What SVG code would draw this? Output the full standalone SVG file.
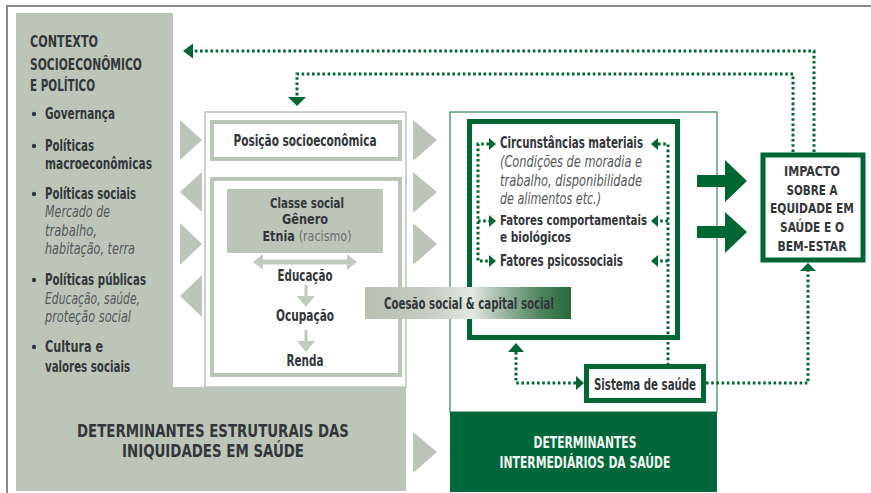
<svg xmlns="http://www.w3.org/2000/svg" width="871" height="493" viewBox="0 0 871 493">
<defs>
<style>
text{font-family:"Liberation Sans Narrow","DejaVu Sans Condensed","Liberation Sans",Arial,sans-serif;fill:#33363a;}
.b{font-weight:bold}
.i{font-style:italic;fill:#55585a}
.n{font-weight:normal;fill:#6a6d70}
.w{fill:#f2f6f2}
.dot{fill:none;stroke:#006633;stroke-width:3;stroke-dasharray:2.6 2.6}
.ah{fill:#006633}
.gt{fill:#bcc6b8}
.ga{fill:#c2cbbf}
.gbox{fill:#ffffff;stroke:#bcc6b8;stroke-width:4}
.gbox2{fill:none;stroke:#bcc6b8;stroke-width:4}
.grn{fill:#ffffff;stroke:#006633;stroke-width:5}
.big{fill:#006633}
</style>
<linearGradient id="coesao" x1="0" y1="0" x2="1" y2="0">
<stop offset="0" stop-color="#b7c1b2"/>
<stop offset="0.3" stop-color="#c3ccc0"/>
<stop offset="0.52" stop-color="#e2e8e0"/>
<stop offset="0.7" stop-color="#90ae98"/>
<stop offset="0.85" stop-color="#4f8560"/>
<stop offset="1" stop-color="#27693b"/>
</linearGradient>
</defs>
<rect x="0" y="0" width="871" height="493" fill="#ffffff"/>
<path d="M7,493 V6 H871" fill="none" stroke="#8a8a8a" stroke-width="2"/>

<g id="contexto">
<polygon class="gt" points="16,13 173,13 173,387 406,387 406,491 16,491"/>
<text class="b" x="30" y="47" font-size="16" textLength="68" lengthAdjust="spacingAndGlyphs">CONTEXTO</text>
<text class="b" x="30" y="70" font-size="16" textLength="112" lengthAdjust="spacingAndGlyphs">SOCIOECONÔMICO</text>
<text class="b" x="30" y="91" font-size="16" textLength="65" lengthAdjust="spacingAndGlyphs">E POLÍTICO</text>
<circle cx="34" cy="114" r="2.2" fill="#33363a"/>
<text class="b" x="45" y="119" font-size="15" textLength="70" lengthAdjust="spacingAndGlyphs">Governança</text>
<circle cx="34" cy="146" r="2.2" fill="#33363a"/>
<text class="b" x="45" y="151" font-size="15" textLength="49" lengthAdjust="spacingAndGlyphs">Políticas</text>
<text class="b" x="45" y="169" font-size="15" textLength="107" lengthAdjust="spacingAndGlyphs">macroeconômicas</text>
<circle cx="34" cy="194" r="2.2" fill="#33363a"/>
<text class="b" x="45" y="199" font-size="15" textLength="91" lengthAdjust="spacingAndGlyphs">Políticas sociais</text>
<text class="i" x="45" y="217" font-size="15" textLength="65" lengthAdjust="spacingAndGlyphs">Mercado de</text>
<text class="i" x="45" y="236" font-size="15" textLength="52" lengthAdjust="spacingAndGlyphs">trabalho,</text>
<text class="i" x="45" y="254" font-size="15" textLength="90" lengthAdjust="spacingAndGlyphs">habitação, terra</text>
<circle cx="34" cy="280" r="2.2" fill="#33363a"/>
<text class="b" x="45" y="285" font-size="15" textLength="101" lengthAdjust="spacingAndGlyphs">Políticas públicas</text>
<text class="i" x="45" y="304" font-size="15" textLength="95" lengthAdjust="spacingAndGlyphs">Educação, saúde,</text>
<text class="i" x="45" y="322" font-size="15" textLength="86" lengthAdjust="spacingAndGlyphs">proteção social</text>
<circle cx="34" cy="347" r="2.2" fill="#33363a"/>
<text class="b" x="45" y="352" font-size="15" textLength="58" lengthAdjust="spacingAndGlyphs">Cultura e</text>
<text class="b" x="45" y="372" font-size="15" textLength="85" lengthAdjust="spacingAndGlyphs">valores sociais</text>
<text class="b" x="213" y="437" font-size="17" text-anchor="middle" textLength="272" lengthAdjust="spacingAndGlyphs">DETERMINANTES ESTRUTURAIS DAS</text>
<text class="b" x="213" y="457" font-size="17" text-anchor="middle" textLength="182" lengthAdjust="spacingAndGlyphs">INIQUIDADES EM SAÚDE</text>
</g>

<g id="triangles">
<polygon class="gt" points="180,120 202,140 180,160"/>
<polygon class="gt" points="202,172 180,192 202,212"/>
<polygon class="gt" points="180,223 202,244 180,265"/>
<polygon class="gt" points="202,275 180,296 202,317"/>
<polygon class="gt" points="413,120 437,140 413,161"/>
<polygon class="gt" points="413,172 437,192 413,213"/>
<polygon class="gt" points="413,223 437,244 413,265"/>
<polygon class="gt" points="413,432 437,452 413,473"/>
</g>

<g id="estruturais">
<rect x="205" y="112" width="201" height="275" fill="#ffffff" stroke="#b9c5b5" stroke-width="1.5"/>
</g>

<g id="posicao">
<rect class="gbox" x="212" y="122" width="188" height="37"/>
<text class="b" x="305" y="146" font-size="15" text-anchor="middle" textLength="143" lengthAdjust="spacingAndGlyphs">Posição socioeconômica</text>
</g>

<g id="classe">
<rect class="gbox2" x="212" y="179" width="188" height="196"/>
<rect class="gt" x="227" y="189" width="156" height="64"/>
<text class="b" x="307" y="208" font-size="13.5" text-anchor="middle" textLength="74" lengthAdjust="spacingAndGlyphs">Classe social</text>
<text class="b" x="305" y="224" font-size="13.5" text-anchor="middle" textLength="46" lengthAdjust="spacingAndGlyphs">Gênero</text>
<text x="307" y="241" font-size="13.5" text-anchor="middle" textLength="89" lengthAdjust="spacingAndGlyphs"><tspan class="b">Etnia </tspan><tspan class="n">(racismo)</tspan></text>
<polygon class="ga" points="253,262 263,254 263,259.5 347,259.5 347,254 357,262 347,270 347,264.5 263,264.5 263,270"/>
<text class="b" x="305" y="281" font-size="15" text-anchor="middle" textLength="55" lengthAdjust="spacingAndGlyphs">Educação</text>
<polygon class="ga" points="304.5,285 307.5,285 307.5,296 315,296 306,307 297,296 304.5,296"/>
<text class="b" x="305" y="321" font-size="15" text-anchor="middle" textLength="58" lengthAdjust="spacingAndGlyphs">Ocupação</text>
<polygon class="ga" points="304.5,330 307.5,330 307.5,341 315,341 306,352 297,341 304.5,341"/>
<text class="b" x="305" y="366" font-size="15" text-anchor="middle" textLength="37" lengthAdjust="spacingAndGlyphs">Renda</text>
</g>

<g id="intermediarios">
<rect x="450" y="112" width="267" height="300" fill="#ffffff" stroke="#5a9e75" stroke-width="1.5"/>
<rect x="450" y="412" width="267" height="80" fill="#00673a"/>
<text class="b w" x="585" y="448" font-size="15" text-anchor="middle" textLength="103" lengthAdjust="spacingAndGlyphs">DETERMINANTES</text>
<text class="b w" x="585" y="468" font-size="15" text-anchor="middle" textLength="171" lengthAdjust="spacingAndGlyphs">INTERMEDIÁRIOS DA SAÚDE</text>
</g>

<g id="fatores">
<rect class="grn" x="469.5" y="121.5" width="208" height="216"/>
<text class="b" x="500" y="148" font-size="15" textLength="143" lengthAdjust="spacingAndGlyphs">Circunstâncias materiais</text>
<text class="i" x="500" y="167" font-size="15" textLength="142" lengthAdjust="spacingAndGlyphs">(Condições de moradia e</text>
<text class="i" x="500" y="186" font-size="15" textLength="142" lengthAdjust="spacingAndGlyphs">trabalho, disponibilidade</text>
<text class="i" x="500" y="204" font-size="15" textLength="101" lengthAdjust="spacingAndGlyphs">de alimentos etc.)</text>
<text class="b" x="500" y="225" font-size="14.5" textLength="147" lengthAdjust="spacingAndGlyphs">Fatores comportamentais</text>
<text class="b" x="500" y="242" font-size="14.5" textLength="71" lengthAdjust="spacingAndGlyphs">e biológicos</text>
<text class="b" x="500" y="266" font-size="15" textLength="123" lengthAdjust="spacingAndGlyphs">Fatores psicossociais</text>
</g>

<g id="sistema">
<rect class="grn" x="586.5" y="366.5" width="117" height="34"/>
<text class="b" x="645" y="390" font-size="15" text-anchor="middle" textLength="102" lengthAdjust="spacingAndGlyphs">Sistema de saúde</text>
</g>

<g id="impacto">
<rect class="grn" x="763" y="155" width="100" height="105" stroke-width="6"/>
<text class="b" x="812" y="176" font-size="14.5" text-anchor="middle" textLength="56" lengthAdjust="spacingAndGlyphs">IMPACTO</text>
<text class="b" x="812" y="195" font-size="14.5" text-anchor="middle" textLength="51" lengthAdjust="spacingAndGlyphs">SOBRE A</text>
<text class="b" x="812" y="213" font-size="14.5" text-anchor="middle" textLength="84" lengthAdjust="spacingAndGlyphs">EQUIDADE EM</text>
<text class="b" x="812" y="232" font-size="14.5" text-anchor="middle" textLength="64" lengthAdjust="spacingAndGlyphs">SAÚDE E O</text>
<text class="b" x="812" y="251" font-size="14.5" text-anchor="middle" textLength="69" lengthAdjust="spacingAndGlyphs">BEM-ESTAR</text>
</g>

<g id="coesao-social">
<rect x="365" y="287" width="206" height="32" fill="url(#coesao)"/>
<text class="b" x="469" y="309" font-size="15" text-anchor="middle" textLength="170" lengthAdjust="spacingAndGlyphs">Coesão social &amp; capital social</text>
</g>

<g id="connectors">
<polygon class="big" points="697,175 725,175 725,160 747,181 725,202 725,187 697,187"/>
<polygon class="big" points="697,226 725,226 725,212 747,232 725,253 725,238 697,238"/>
<path class="dot" d="M814,152 V51 H194"/>
<polygon class="ah" points="183,51 193,43.5 193,58.5"/>
<path class="dot" d="M793,152 V74 H297 V97"/>
<polygon class="ah" points="288,97 306,97 297,106"/>
<path class="dot" d="M489,144 H478 V261 H489"/>
<path class="dot" d="M478,221 H489"/>
<polygon class="ah" points="496,144 489,138 489,150"/>
<polygon class="ah" points="496,221 489,215 489,227"/>
<polygon class="ah" points="496,261 489,255 489,267"/>
<path class="dot" d="M658,144 H668 V364"/>
<path class="dot" d="M668,221 H658 M668,261 H658"/>
<polygon class="ah" points="651,144 658,138 658,150"/>
<polygon class="ah" points="651,221 658,215 658,227"/>
<polygon class="ah" points="651,261 658,255 658,267"/>
<path class="dot" d="M516,352 V383 H577"/>
<polygon class="ah" points="516,343 508,352 524,352"/>
<polygon class="ah" points="584,383 576,376 576,390"/>
<path class="dot" d="M706,383 H808 V271"/>
<polygon class="ah" points="808,263 800,271 816,271"/>
</g>
</svg>
